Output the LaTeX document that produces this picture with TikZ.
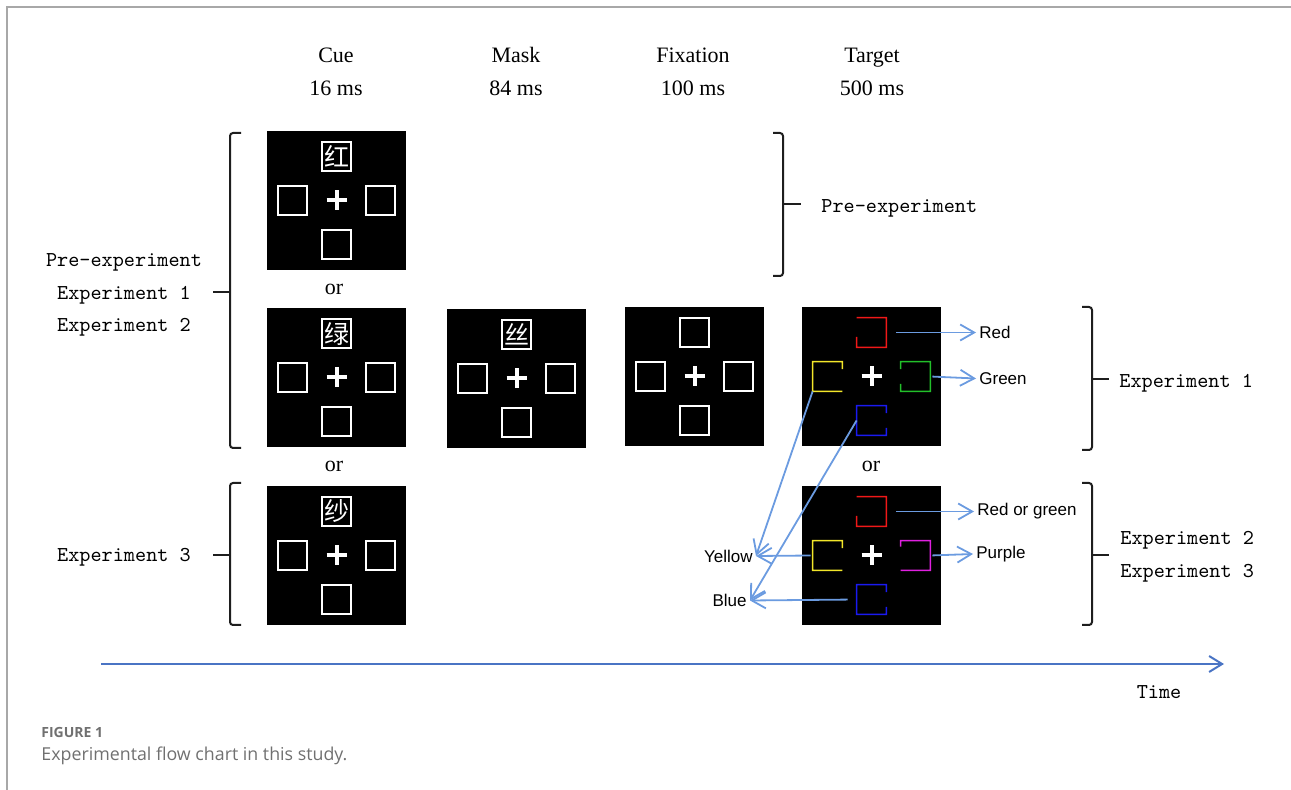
\documentclass[tikz,border=0pt]{standalone}
\usepackage{fontspec}
\setmainfont{Liberation Serif}
\newfontfamily\arialfont{Liberation Sans}
\newfontfamily\capfont{Open Sans}
\newfontfamily\cjkfont{Noto Sans CJK SC}
\usetikzlibrary{arrows.meta,calc}

\definecolor{arrowblue}{HTML}{6B9BE0}
\definecolor{timeblue}{HTML}{4A74C4}
\definecolor{framegray}{HTML}{A8A8A8}
\definecolor{capgray}{HTML}{707070}
\definecolor{bracecol}{HTML}{1E1E1E}
\definecolor{tred}{HTML}{F01818}
\definecolor{tyellow}{HTML}{F2E62A}
\definecolor{tgreen}{HTML}{22C02A}
\definecolor{tblue}{HTML}{1A1AF0}
\definecolor{tmagenta}{HTML}{E020E0}

\tikzset{
  panel/.style={fill=black, minimum size=69.5pt, inner sep=0pt},
  sq/.style={minimum size=14.5pt, inner sep=0pt, draw=white, line width=0.75pt},
  slot/.style={minimum size=14.5pt, inner sep=0pt},
  gapsq/.style={line width=0.8pt},
  crossline/.style={white, line width=2pt},
  hdr/.style={font=\fontsize{11}{16.5}\selectfont, align=center, inner sep=0pt},
  ortext/.style={font=\fontsize{11}{13}\selectfont, inner sep=0pt},
  expl/.style={font=\ttfamily\fontsize{10.6}{16.25}\selectfont, text=black, inner sep=0pt},
  lab/.style={font=\arialfont\fontsize{8.5}{10}\selectfont, inner sep=1.5pt},
  arr/.style={arrowblue, line width=0.9pt, -{Straight Barb[length=7pt,width=8pt]}},
  timearr/.style={timeblue, line width=1pt, -{Straight Barb[length=6.5pt,width=8pt]}},
  brace/.style={bracecol, line width=1pt, rounded corners=1.5pt},
  stim/.pic={
    \node[panel] (-bg) at (0,0) {};
    \node[sq] (-l) at (-44,0) {};
    \node[sq] (-r) at (44,0) {};
    \node[sq] (-b) at (0,44) {};
    \node[sq, text=white, font=\cjkfont\fontsize{12.5}{12.5}\selectfont] (-t) at (0,-44) {#1};
    \draw[crossline] (-10,0) -- (10,0) (0,-10) -- (0,10);
  },
  tgt/.pic={
    \node[panel] (-bg) at (0,0) {};
    \node[slot] (-l) at (-44,0) {};
    \node[slot] (-r) at (44,0) {};
    \node[slot] (-b) at (0,44) {};
    \node[slot] (-t) at (0,-44) {};
    \draw[crossline] (-10,0) -- (10,0) (0,-10) -- (0,10);
  }
}

\begin{document}
\begin{tikzpicture}[x=0.5pt, y=-0.5pt]
\useasboundingbox (0,0) rectangle (1291,790);

% page frame
\draw[framegray, line width=0.75pt] (7,790) -- (7,7) -- (1291,7);

% column headings
\node[hdr] (hCue) at (336,71.5) {Cue\\16 ms};
\node[hdr] (hMask) at (516,71.5) {Mask\\84 ms};
\node[hdr] (hFix) at (693,71.5) {Fixation\\100 ms};
\node[hdr] (hTgt) at (872,71.5) {Target\\500 ms};

% cue displays
\pic (c1) at (336.5,200.5) {stim=红};
\pic (c2) at (336.5,377.5) {stim=绿};
\pic (c3) at (336.5,555.5) {stim=纱};
% mask and fixation
\pic (m) at (516.5,378.5) {stim=丝};
\pic (f) at (694.5,376.5) {stim=};
% target displays
\pic (t1) at (871.5,376.5) {tgt};
\pic (t2) at (871.5,555.5) {tgt};

% gapped coloured squares, display 1
\draw[gapsq, tred] ($(t1-t.south west)!0.35!(t1-t.north west)$) -- (t1-t.south west) -- (t1-t.south east) -- (t1-t.north east) -- (t1-t.north west);
\draw[gapsq, tyellow] ($(t1-l.north east)!0.25!(t1-l.south east)$) -- (t1-l.north east) -- (t1-l.north west) -- (t1-l.south west) -- (t1-l.south east);
\draw[gapsq, tgreen] ($(t1-r.north west)!0.25!(t1-r.south west)$) -- (t1-r.north west) -- (t1-r.north east) -- (t1-r.south east) -- (t1-r.south west) -- ($(t1-r.south west)!0.25!(t1-r.north west)$);
\draw[gapsq, tblue] ($(t1-b.north east)!0.25!(t1-b.south east)$) -- (t1-b.north east) -- (t1-b.north west) -- (t1-b.south west) -- (t1-b.south east) -- ($(t1-b.south east)!0.25!(t1-b.north east)$);
% gapped coloured squares, display 2
\draw[gapsq, tred] ($(t2-t.south west)!0.35!(t2-t.north west)$) -- (t2-t.south west) -- (t2-t.south east) -- (t2-t.north east) -- (t2-t.north west);
\draw[gapsq, tyellow] ($(t2-l.north east)!0.25!(t2-l.south east)$) -- (t2-l.north east) -- (t2-l.north west) -- (t2-l.south west) -- (t2-l.south east);
\draw[gapsq, tmagenta] ($(t2-r.north west)!0.2!(t2-r.south west)$) -- (t2-r.north west) -- (t2-r.north east) -- (t2-r.south east) -- (t2-r.south west);
\draw[gapsq, tblue] ($(t2-b.north east)!0.25!(t2-b.south east)$) -- (t2-b.north east) -- (t2-b.north west) -- (t2-b.south west) -- (t2-b.south east) -- ($(t2-b.south east)!0.25!(t2-b.north east)$);

% "or" between alternatives
\node[ortext] (or1) at (334,289) {or};
\node[ortext] (or2) at (334,466) {or};
\node[ortext] (or3) at (871,466) {or};

% response labels
\node[lab, anchor=west] (lRed) at (976,332.5) {Red};
\node[lab, anchor=west] (lGreen) at (976,378.5) {Green};
\node[lab, anchor=west] (lRedGreen) at (974,511.5) {Red or green};
\node[lab, anchor=west] (lPurple) at (973,554) {Purple};
\node[lab, anchor=east] (lYellow) at (756,556) {Yellow};
\node[lab, anchor=east] (lBlue) at (750,600.5) {Blue};

% response mapping arrows
\draw[arr, shorten <=5pt] (t1-t.east) -- (lRed.west);
\draw[arr, shorten <=1pt] (t1-r.east) -- (lGreen.west);
\draw[arr, shorten <=5pt] (t2-t.east) -- (lRedGreen.west);
\draw[arr, shorten <=1pt] (t2-r.east) -- (lPurple.west);
\draw[arr] (t1-l.south west) -- (lYellow.east);
\draw[arr] (t1-b.west) -- (lBlue.east);
\draw[arr, shorten <=1pt] (t2-l.west) -- (lYellow.east);
\draw[arr, shorten <=4.5pt] (t2-b.west) -- (lBlue.east);

% left braces and experiment labels
\draw[brace] (241,133) -- (230,133) -- (230,448) -- (241,448);
\draw[brace] (230,292) -- (213,292);
\draw[brace] (241,483) -- (230,483) -- (230,625) -- (241,625);
\draw[brace] (230,555) -- (213,555);
\node[expl, align=center] (eLeftA) at (124,295) {Pre-experiment\\Experiment 1\\Experiment 2};
\node[expl] (eLeftB) at (124,557) {Experiment 3};

% right braces and experiment labels
\draw[brace] (773,133) -- (783,133) -- (783,276) -- (773,276);
\draw[brace] (783,204) -- (801,204);
\draw[brace] (1082,307) -- (1092,307) -- (1092,450) -- (1082,450);
\draw[brace] (1092,379) -- (1109,379);
\draw[brace] (1082,483) -- (1092,483) -- (1092,625) -- (1082,625);
\draw[brace] (1092,555) -- (1109,555);
\node[expl, anchor=west] (eRightA) at (821,208) {Pre-experiment};
\node[expl, anchor=west] (eRightB) at (1119,383) {Experiment 1};
\node[expl, anchor=west, align=left] (eRightC) at (1120,557) {Experiment 2\\Experiment 3};

% time axis
\coordinate (tStart) at (101,664);
\coordinate (tEnd) at (1224,664);
\draw[timearr] (tStart) -- (tEnd);
\node[expl] (tLabel) at (1159,692) {Time};

% caption
\node[anchor=west, inner sep=0pt, text=capgray, font=\capfont\bfseries\fontsize{7}{8}\selectfont] (capA) at (41,733) {FIGURE 1};
\node[anchor=west, inner sep=0pt, text=capgray, font=\capfont\fontsize{8.9}{10}\selectfont] (capB) at (41,756) {Experimental flow chart in this study.};
\end{tikzpicture}
\end{document}
